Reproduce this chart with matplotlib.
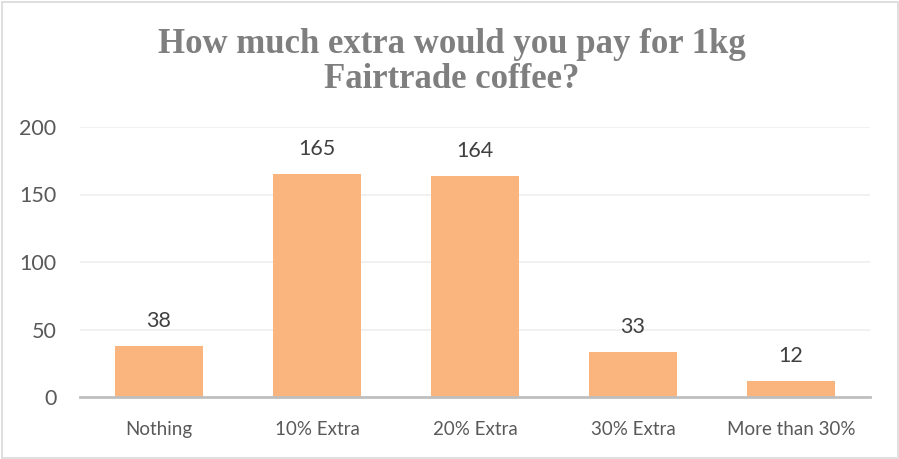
import matplotlib
matplotlib.use("Agg")
import matplotlib.pyplot as plt
from matplotlib.patches import Rectangle

categories = ["Nothing", "10% Extra", "20% Extra", "30% Extra", "More than 30%"]
values = [38, 165, 164, 33, 12]
yticks = [0, 50, 100, 150, 200]
title = "How much extra would you pay for 1kg\nFairtrade coffee?"

W, H = 899, 459
fig = plt.figure(figsize=(W / 100, H / 100), dpi=100)
fig.patch.set_facecolor("white")

# chart-area border
fig.add_artist(Rectangle((1.5 / W, 1.5 / H), (W - 3) / W, (H - 3) / H,
                         transform=fig.transFigure, fill=False,
                         edgecolor="#d9d9d9", linewidth=1.2))

left, right = 80, 870
bottom, top = 397, 127
ax = fig.add_axes([left / W, (H - bottom) / H, (right - left) / W, (bottom - top) / H])

x = range(len(categories))
ax.bar(x, values, width=0.557, color="#f9b57d", zorder=2)
ax.set_xlim(-0.5, len(categories) - 0.5)
ax.set_ylim(0, 200)

sans = ["Lato", "DejaVu Sans"]
for xi, v in zip(x, values):
    ax.annotate(str(v), (xi, v), xytext=(0, 18), textcoords="offset points",
                ha="center", va="center", fontsize=15.5, color="#404040",
                family=sans)

ax.set_yticks(yticks)
ax.set_yticklabels([str(t) for t in yticks], fontsize=15.5, color="#595959", family=sans)
ax.set_xticks(list(x))
ax.set_xticklabels(categories, fontsize=13.5, color="#595959", family=sans)
ax.tick_params(axis="y", length=0, pad=17)
ax.tick_params(axis="x", length=0, pad=17)

ax.grid(axis="y", color="#efefef", linewidth=1.2, zorder=0)
for s in ["top", "right", "left"]:
    ax.spines[s].set_visible(False)
ax.spines["bottom"].set_color("#bfbfbf")
ax.spines["bottom"].set_linewidth(2)
ax.spines["bottom"].set_zorder(3)

fig.text(0.5 + 2 / W, 1 - 62 / H, title, ha="center", va="center",
         fontsize=25, fontweight="bold", color="#7f7f7f",
         family=["Liberation Serif", "DejaVu Serif"], linespacing=1.08)

fig.savefig("out.png", dpi=100, facecolor="white")
